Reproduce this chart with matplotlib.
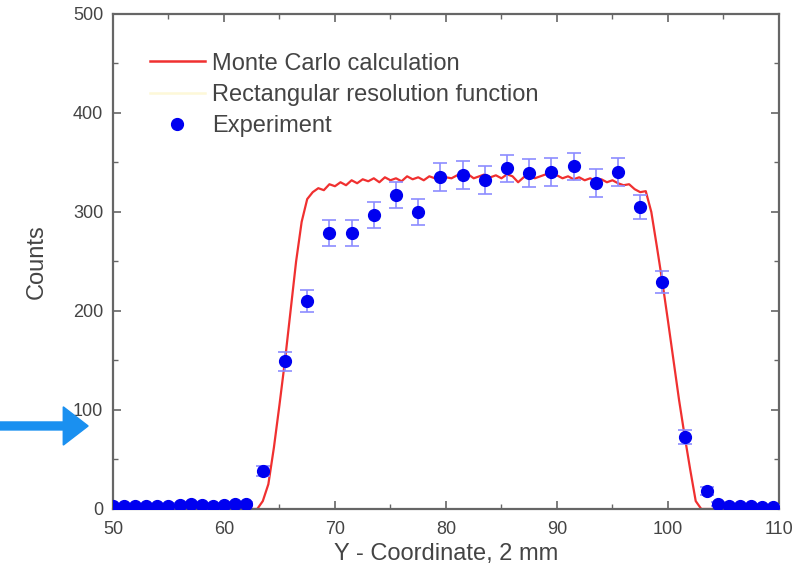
import numpy as np
import matplotlib
matplotlib.use("Agg")
import matplotlib.pyplot as plt
from matplotlib.lines import Line2D
from matplotlib.patches import FancyArrow

plt.rcParams['font.family'] = ['Liberation Sans', 'DejaVu Sans']

# Monte Carlo curve, sampled every 0.5 mm from 50 to 110
mc_x = np.arange(50, 110.01, 0.5)
mc_y = [0] * 26 + [
    0, 8, 25, 62, 105, 150, 200, 250, 290, 313,
    320, 324, 322, 328, 326, 330, 327, 332, 329, 333,
    331, 334, 330, 335, 332, 334, 331, 336, 333, 335,
    332, 336, 334, 337, 335, 334, 337, 335, 338, 334,
    336, 338, 335, 337, 334, 338, 336, 330, 335, 337,
    334, 336, 338, 335, 337, 334, 336, 333, 335, 332,
    334, 331, 333, 330, 332, 329, 327, 328, 323, 320,
    321, 300, 265, 229, 190, 150, 110, 74, 40, 8,
    0] + [0] * 14

# experiment points
exp_x = [50, 51, 52, 53, 54, 55, 56, 57, 58, 59, 60, 61, 62,
         63.5, 65.5, 67.5, 69.5, 71.5, 73.5, 75.5, 77.5, 79.5, 81.5,
         83.5, 85.5, 87.5, 89.5, 91.5, 93.5, 95.5, 97.5, 99.5, 101.5,
         103.5, 104.5, 105.5, 106.5, 107.5, 108.5, 109.5]
exp_y = [3, 3, 3, 3, 3, 3, 4, 5, 4, 3, 4, 5, 5,
         38, 149, 210, 279, 279, 297, 317, 300, 335, 337,
         332, 344, 339, 340, 346, 329, 340, 305, 229, 73,
         18, 5, 3, 3, 3, 2, 2]
exp_err = [2] * 13 + [5, 10, 11, 13, 13, 13, 13, 13, 14, 14,
                      14, 14, 14, 14, 14, 14, 14, 12, 11, 7,
                      4, 2, 2, 2, 2, 2, 2]

fig = plt.figure(figsize=(8.01, 5.71), dpi=100)
ax = fig.add_axes([0.141, 0.1086, 0.8315, 0.867])

ax.plot(mc_x, mc_y, color='#f03030', lw=1.6, zorder=2)
ax.errorbar(exp_x, exp_y, yerr=exp_err, fmt='o', color='#0000f0', ms=8.5,
            ecolor='#8c8cff', elinewidth=1.2, capsize=5, capthick=1.2, zorder=3)

ax.set_xlim(50, 110)
ax.set_ylim(0, 500)
ax.set_xticks(range(50, 111, 10))
ax.set_xticks(range(55, 110, 10), minor=True)
ax.set_yticks(range(0, 501, 100))
ax.set_yticks(range(50, 500, 100), minor=True)
ax.tick_params(which='both', direction='in', top=True, right=True,
               colors='#666666', labelcolor='#444444', labelsize=13)
ax.tick_params(which='major', length=6, width=1.2)
ax.tick_params(which='minor', length=3.5, width=1.0)
ax.tick_params(axis='x', which='major', pad=9)
ax.tick_params(axis='y', which='major', pad=7)
for s in ax.spines.values():
    s.set_color('#666666')
    s.set_linewidth(1.6)

ax.set_xlabel('Y - Coordinate, 2 mm', fontsize=17, color='#444444', labelpad=3)
ax.set_ylabel('Counts', fontsize=17, color='#444444', labelpad=18)

handles = [Line2D([], [], color='#f03030', lw=1.8),
           Line2D([], [], color='#fdf8d8', lw=1.8),
           Line2D([], [], ls='none', marker='o', color='#0000f0', ms=8.5)]
labels = ['Monte Carlo calculation', 'Rectangular resolution function', 'Experiment']
ax.legend(handles, labels, loc='upper left', bbox_to_anchor=(0.056, 0.922),
          borderaxespad=0, borderpad=0,
          frameon=False, fontsize=17, handlelength=2.3, handletextpad=0.3,
          labelspacing=0.4, labelcolor='#444444')

# blue arrow pointing at the 100 tick label
fig.add_artist(FancyArrow(0.0, 0.254, 0.11, 0.0, width=0.014,
                          head_width=0.067, head_length=0.031,
                          length_includes_head=True, color='#1a90f0',
                          transform=fig.transFigure))

fig.savefig('out.png', dpi=100)
